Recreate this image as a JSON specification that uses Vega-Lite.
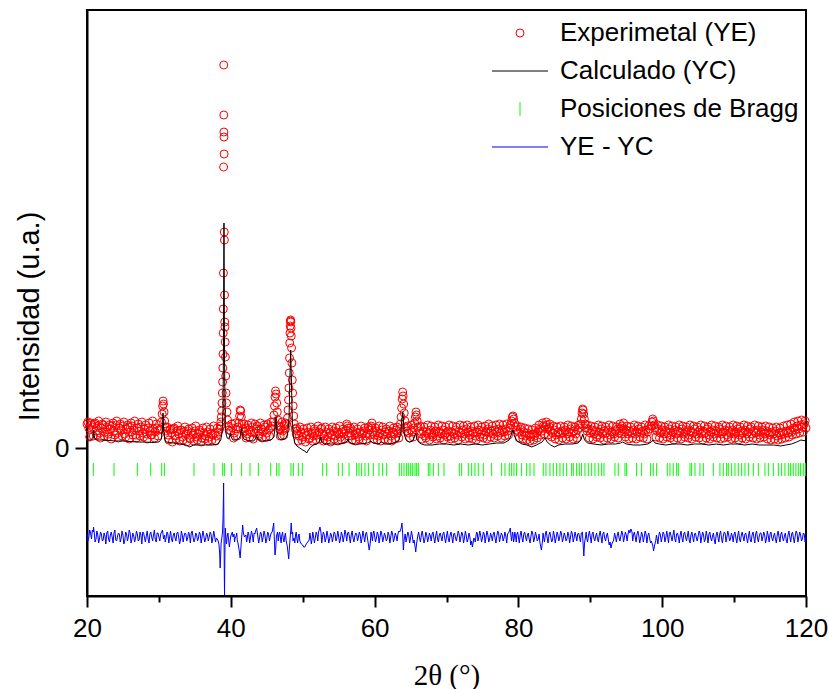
{
"$schema": "https://vega.github.io/schema/vega-lite/v6.json",
"autosize": {"type": "none"},
"width": 719, "height": 586,
"padding": {"left": 87, "top": 10, "right": 23, "bottom": 93},
"config": {"view": {"stroke": "black", "strokeWidth": 2}, "font": "Liberation Sans"},
"datasets": {
"obs": [
{"x":20,"o":24},{"x":20.25,"o":20},{"x":20.5,"o":25},{"x":20.75,"o":21},{"x":21,"o":24},{"x":21.25,"o":17},{"x":21.5,"o":22},{"x":21.75,"o":15},{"x":22,"o":20},{"x":22.25,"o":23},{"x":22.5,"o":16},{"x":22.75,"o":21},{"x":23,"o":14},{"x":23.25,"o":19},{"x":23.5,"o":22},{"x":23.75,"o":17},{"x":24,"o":23},{"x":24.25,"o":15},{"x":24.5,"o":20},{"x":24.75,"o":18},{"x":25,"o":22},{"x":25.25,"o":14},{"x":25.5,"o":19},{"x":25.75,"o":21},{"x":26,"o":16},{"x":26.25,"o":22},{"x":26.5,"o":18},{"x":26.75,"o":13},{"x":27,"o":20},{"x":27.25,"o":17},{"x":27.5,"o":21},{"x":27.75,"o":15},{"x":28,"o":19},{"x":28.25,"o":14},{"x":28.5,"o":20},{"x":28.75,"o":17},{"x":29,"o":13},{"x":29.25,"o":19},{"x":29.5,"o":16},{"x":29.75,"o":20},{"x":30,"o":18},
{"x":30.2,"o":19},{"x":30.35,"o":26},{"x":30.45,"o":34},{"x":30.52,"o":42},{"x":30.58,"o":47},{"x":30.64,"o":44},{"x":30.72,"o":36},{"x":30.8,"o":27},{"x":30.9,"o":21},{"x":31,"o":17},
{"x":31.25,"o":13},{"x":31.5,"o":18},{"x":31.75,"o":15},{"x":32,"o":19},{"x":32.25,"o":12},{"x":32.5,"o":17},{"x":32.75,"o":14},{"x":33,"o":18},{"x":33.25,"o":11},{"x":33.5,"o":16},{"x":33.75,"o":14},{"x":34,"o":17},{"x":34.25,"o":10},{"x":34.5,"o":15},{"x":34.75,"o":13},{"x":35,"o":17},{"x":35.25,"o":11},{"x":35.5,"o":14},{"x":35.75,"o":16},{"x":36,"o":10},{"x":36.25,"o":15},{"x":36.5,"o":12},{"x":36.75,"o":16},{"x":37,"o":11},{"x":37.25,"o":14},{"x":37.5,"o":13},{"x":37.75,"o":15},{"x":38,"o":12},{"x":38.25,"o":16},{"x":38.45,"o":19},
{"x":38.55,"o":22},{"x":38.62,"o":26},{"x":38.68,"o":31},{"x":38.73,"o":37},{"x":38.78,"o":45},{"x":38.82,"o":55},{"x":38.86,"o":66},{"x":38.89,"o":80},{"x":38.92,"o":94},{"x":38.94,"o":115},{"x":38.96,"o":139},{"x":38.98,"o":175},{"x":39,"o":281},{"x":39.02,"o":383},{"x":39.03,"o":333},{"x":39.04,"o":316},{"x":39.05,"o":311},{"x":39.07,"o":294},{"x":39.09,"o":216},{"x":39.11,"o":208},{"x":39.13,"o":153},{"x":39.16,"o":126},{"x":39.19,"o":121},{"x":39.22,"o":106},{"x":39.25,"o":91},{"x":39.29,"o":72},{"x":39.34,"o":55},{"x":39.4,"o":45},{"x":39.47,"o":36},{"x":39.55,"o":28},{"x":39.65,"o":22},{"x":39.75,"o":18},
{"x":40,"o":17},{"x":40.25,"o":20},{"x":40.5,"o":15},{"x":40.75,"o":19},{"x":41,"o":21},{"x":41.12,"o":25},{"x":41.22,"o":32},{"x":41.3,"o":38},{"x":41.38,"o":37},{"x":41.46,"o":31},{"x":41.55,"o":24},{"x":41.7,"o":19},
{"x":41.9,"o":16},{"x":42.1,"o":20},{"x":42.3,"o":14},{"x":42.5,"o":18},{"x":42.75,"o":16},{"x":43,"o":21},{"x":43.25,"o":15},{"x":43.5,"o":19},{"x":43.65,"o":22},{"x":43.8,"o":17},{"x":44,"o":14},{"x":44.25,"o":19},{"x":44.5,"o":16},{"x":44.75,"o":21},{"x":45,"o":15},{"x":45.25,"o":18},{"x":45.5,"o":20},{"x":45.75,"o":22},
{"x":45.9,"o":26},{"x":46,"o":33},{"x":46.08,"o":42},{"x":46.15,"o":51},{"x":46.22,"o":57},{"x":46.3,"o":54},{"x":46.38,"o":45},{"x":46.46,"o":36},{"x":46.55,"o":28},{"x":46.68,"o":22},
{"x":46.85,"o":18},{"x":47,"o":21},{"x":47.2,"o":17},{"x":47.4,"o":22},{"x":47.6,"o":19},{"x":47.75,"o":24},
{"x":47.88,"o":30},{"x":47.96,"o":38},{"x":48.03,"o":48},{"x":48.08,"o":60},{"x":48.13,"o":75},{"x":48.17,"o":90},{"x":48.2,"o":105},{"x":48.23,"o":115},{"x":48.26,"o":122},{"x":48.29,"o":127},{"x":48.32,"o":128},{"x":48.35,"o":126},{"x":48.38,"o":120},{"x":48.41,"o":112},{"x":48.45,"o":100},{"x":48.5,"o":85},{"x":48.55,"o":68},{"x":48.6,"o":55},{"x":48.67,"o":42},{"x":48.75,"o":32},{"x":48.85,"o":24},{"x":48.95,"o":19},
{"x":49.1,"o":14},{"x":49.25,"o":17},{"x":49.5,"o":12},{"x":49.75,"o":16},{"x":50,"o":11},{"x":50.25,"o":15},{"x":50.5,"o":13},{"x":50.75,"o":16},{"x":51,"o":10},{"x":51.25,"o":15},{"x":51.5,"o":12},{"x":51.75,"o":17},{"x":52,"o":13},{"x":52.25,"o":16},{"x":52.5,"o":19},{"x":52.75,"o":14},{"x":53,"o":12},{"x":53.25,"o":16},{"x":53.5,"o":11},{"x":53.75,"o":15},{"x":54,"o":13},{"x":54.25,"o":17},{"x":54.5,"o":12},{"x":54.75,"o":16},{"x":55,"o":14},{"x":55.25,"o":11},{"x":55.5,"o":16},{"x":55.75,"o":14},{"x":56,"o":18},{"x":56.2,"o":22},{"x":56.35,"o":20},{"x":56.5,"o":15},{"x":56.75,"o":12},{"x":57,"o":17},{"x":57.25,"o":13},{"x":57.5,"o":15},{"x":57.75,"o":11},{"x":58,"o":16},{"x":58.25,"o":14},{"x":58.5,"o":17},{"x":58.75,"o":12},{"x":59,"o":15},{"x":59.25,"o":18},{"x":59.5,"o":22},{"x":59.65,"o":20},{"x":59.8,"o":16},{"x":60,"o":13},{"x":60.25,"o":17},{"x":60.5,"o":12},{"x":60.75,"o":15},{"x":61,"o":18},{"x":61.25,"o":13},{"x":61.5,"o":16},{"x":61.75,"o":14},{"x":62,"o":17},{"x":62.25,"o":12},{"x":62.5,"o":16},{"x":62.75,"o":14},{"x":63,"o":18},{"x":63.25,"o":15},{"x":63.45,"o":19},
{"x":63.58,"o":24},{"x":63.68,"o":31},{"x":63.76,"o":40},{"x":63.83,"o":49},{"x":63.9,"o":56},{"x":63.97,"o":52},{"x":64.04,"o":44},{"x":64.12,"o":35},{"x":64.22,"o":27},{"x":64.35,"o":21},{"x":64.5,"o":17},{"x":64.75,"o":15},{"x":65,"o":18},{"x":65.25,"o":16},{"x":65.45,"o":20},
{"x":65.57,"o":25},{"x":65.67,"o":31},{"x":65.75,"o":36},{"x":65.83,"o":33},{"x":65.92,"o":27},{"x":66.05,"o":21},{"x":66.25,"o":17},
{"x":66.5,"o":14},{"x":66.75,"o":17},{"x":67,"o":12},{"x":67.25,"o":16},{"x":67.5,"o":14},{"x":67.75,"o":18},{"x":68,"o":13},{"x":68.25,"o":15},{"x":68.5,"o":17},{"x":68.75,"o":12},{"x":69,"o":16},{"x":69.25,"o":14},{"x":69.5,"o":18},{"x":69.75,"o":13},{"x":70,"o":15},{"x":70.25,"o":17},{"x":70.5,"o":12},{"x":70.75,"o":16},{"x":71,"o":14},{"x":71.25,"o":18},{"x":71.5,"o":13},{"x":71.75,"o":16},{"x":72,"o":15},{"x":72.25,"o":18},{"x":72.5,"o":14},{"x":72.75,"o":19},{"x":73,"o":16},{"x":73.25,"o":13},{"x":73.5,"o":17},{"x":73.75,"o":15},{"x":74,"o":12},{"x":74.25,"o":16},{"x":74.5,"o":18},{"x":74.75,"o":14},{"x":75,"o":17},{"x":75.25,"o":13},{"x":75.5,"o":16},{"x":75.75,"o":19},{"x":76,"o":15},{"x":76.25,"o":17},{"x":76.5,"o":14},{"x":76.75,"o":18},{"x":77,"o":16},{"x":77.25,"o":19},{"x":77.5,"o":15},{"x":77.75,"o":18},{"x":78,"o":16},{"x":78.25,"o":19},{"x":78.5,"o":17},{"x":78.75,"o":20},
{"x":78.92,"o":23},{"x":79.05,"o":27},{"x":79.15,"o":31},{"x":79.25,"o":32},{"x":79.35,"o":29},{"x":79.47,"o":25},{"x":79.6,"o":21},{"x":79.75,"o":18},{"x":80,"o":16},{"x":80.25,"o":19},{"x":80.5,"o":13},{"x":80.75,"o":16},{"x":81,"o":12},{"x":81.25,"o":15},{"x":81.5,"o":13},{"x":81.75,"o":11},{"x":82,"o":14},{"x":82.25,"o":12},{"x":82.5,"o":15},{"x":82.75,"o":17},{"x":83,"o":19},{"x":83.25,"o":17},{"x":83.5,"o":22},{"x":83.7,"o":21},{"x":83.9,"o":23},{"x":84.1,"o":19},{"x":84.3,"o":21},{"x":84.5,"o":17},{"x":84.75,"o":15},{"x":85,"o":18},{"x":85.25,"o":13},{"x":85.5,"o":16},{"x":85.75,"o":14},{"x":86,"o":17},{"x":86.25,"o":15},{"x":86.5,"o":18},{"x":86.75,"o":14},{"x":87,"o":16},{"x":87.25,"o":19},{"x":87.5,"o":15},{"x":87.75,"o":17},{"x":88,"o":14},{"x":88.25,"o":18},{"x":88.5,"o":20},
{"x":88.65,"o":24},{"x":88.76,"o":29},{"x":88.85,"o":35},{"x":88.93,"o":39},{"x":89,"o":38},{"x":89.08,"o":34},{"x":89.17,"o":29},{"x":89.28,"o":24},{"x":89.4,"o":20},{"x":89.55,"o":17},{"x":89.75,"o":19},{"x":90,"o":15},{"x":90.25,"o":18},{"x":90.5,"o":14},{"x":90.75,"o":17},{"x":91,"o":13},{"x":91.25,"o":16},{"x":91.5,"o":19},{"x":91.75,"o":14},{"x":92,"o":17},{"x":92.25,"o":15},{"x":92.5,"o":18},{"x":92.75,"o":13},{"x":93,"o":16},{"x":93.25,"o":14},{"x":93.5,"o":17},{"x":93.75,"o":19},{"x":94,"o":15},{"x":94.25,"o":20},{"x":94.4,"o":22},{"x":94.55,"o":19},{"x":94.75,"o":16},{"x":95,"o":18},{"x":95.25,"o":14},{"x":95.5,"o":17},{"x":95.75,"o":15},{"x":96,"o":18},{"x":96.25,"o":14},{"x":96.5,"o":16},{"x":96.75,"o":19},{"x":97,"o":15},{"x":97.25,"o":17},{"x":97.5,"o":14},{"x":97.75,"o":18},{"x":98,"o":16},{"x":98.25,"o":19},
{"x":98.45,"o":22},{"x":98.58,"o":26},{"x":98.68,"o":29},{"x":98.78,"o":27},{"x":98.9,"o":23},{"x":99.05,"o":20},{"x":99.25,"o":17},{"x":99.5,"o":19},{"x":99.75,"o":15},{"x":100,"o":18},{"x":100.25,"o":14},{"x":100.5,"o":17},{"x":100.75,"o":15},{"x":101,"o":19},{"x":101.25,"o":13},{"x":101.5,"o":16},{"x":101.75,"o":18},{"x":102,"o":14},{"x":102.25,"o":17},{"x":102.5,"o":15},{"x":102.75,"o":19},{"x":103,"o":14},{"x":103.25,"o":16},{"x":103.5,"o":18},{"x":103.75,"o":13},{"x":104,"o":17},{"x":104.25,"o":15},{"x":104.5,"o":19},{"x":104.75,"o":14},{"x":105,"o":16},{"x":105.25,"o":18},{"x":105.5,"o":14},{"x":105.75,"o":17},{"x":106,"o":15},{"x":106.25,"o":19},{"x":106.5,"o":13},{"x":106.75,"o":16},{"x":107,"o":18},{"x":107.25,"o":14},{"x":107.5,"o":17},{"x":107.75,"o":15},{"x":108,"o":19},{"x":108.25,"o":14},{"x":108.5,"o":16},{"x":108.75,"o":18},{"x":109,"o":13},{"x":109.25,"o":17},{"x":109.5,"o":15},{"x":109.75,"o":18},{"x":110,"o":14},{"x":110.25,"o":16},{"x":110.5,"o":19},{"x":110.75,"o":13},{"x":111,"o":17},{"x":111.25,"o":15},{"x":111.5,"o":18},{"x":111.75,"o":14},{"x":112,"o":16},{"x":112.25,"o":19},{"x":112.5,"o":14},{"x":112.75,"o":17},{"x":113,"o":15},{"x":113.25,"o":18},{"x":113.5,"o":13},{"x":113.75,"o":16},{"x":114,"o":18},{"x":114.25,"o":14},{"x":114.5,"o":17},{"x":114.75,"o":15},{"x":115,"o":13},{"x":115.25,"o":16},{"x":115.5,"o":14},{"x":115.75,"o":17},{"x":116,"o":12},{"x":116.25,"o":15},{"x":116.5,"o":13},{"x":116.75,"o":16},{"x":117,"o":14},{"x":117.25,"o":17},{"x":117.5,"o":15},{"x":117.75,"o":18},{"x":118,"o":16},{"x":118.25,"o":20},{"x":118.5,"o":18},{"x":118.75,"o":22},{"x":119,"o":19},{"x":119.25,"o":23},{"x":119.5,"o":21},{"x":119.75,"o":24},{"x":120,"o":20},
{"x":20.125,"o":26},{"x":20.375,"o":11},{"x":20.625,"o":23},{"x":20.875,"o":12},{"x":21.125,"o":25},{"x":21.375,"o":13},{"x":21.625,"o":27},{"x":21.875,"o":10},{"x":22.125,"o":24},{"x":22.375,"o":12},{"x":22.625,"o":26},{"x":22.875,"o":11},{"x":23.125,"o":23},{"x":23.375,"o":9},{"x":23.625,"o":25},{"x":23.875,"o":13},{"x":24.125,"o":27},{"x":24.375,"o":10},{"x":24.625,"o":24},{"x":24.875,"o":12},{"x":25.125,"o":26},{"x":25.375,"o":11},{"x":25.625,"o":23},{"x":25.875,"o":9},{"x":26.125,"o":25},{"x":26.375,"o":13},{"x":26.625,"o":27},{"x":26.875,"o":10},{"x":27.125,"o":24},{"x":27.375,"o":12},{"x":27.625,"o":26},{"x":27.875,"o":11},{"x":28.125,"o":23},{"x":28.375,"o":9},{"x":28.625,"o":25},{"x":28.875,"o":13},{"x":29.125,"o":27},{"x":29.375,"o":10},{"x":29.625,"o":24},{"x":29.875,"o":12},
{"x":31.125,"o":21},{"x":31.375,"o":8},{"x":31.625,"o":19},{"x":31.875,"o":6},{"x":32.125,"o":20},{"x":32.375,"o":9},{"x":32.625,"o":22},{"x":32.875,"o":7},{"x":33.125,"o":18},{"x":33.375,"o":8},{"x":33.625,"o":21},{"x":33.875,"o":6},{"x":34.125,"o":19},{"x":34.375,"o":9},{"x":34.625,"o":20},{"x":34.875,"o":7},{"x":35.125,"o":22},{"x":35.375,"o":8},{"x":35.625,"o":18},{"x":35.875,"o":6},{"x":36.125,"o":20},{"x":36.375,"o":9},{"x":36.625,"o":21},{"x":36.875,"o":7},{"x":37.125,"o":19},{"x":37.375,"o":8},{"x":37.625,"o":22},{"x":37.875,"o":7},{"x":38.125,"o":20},
{"x":40.125,"o":24},{"x":40.375,"o":10},{"x":40.625,"o":25},{"x":40.875,"o":12},{"x":41.875,"o":24},{"x":42.125,"o":10},{"x":42.375,"o":23},{"x":42.625,"o":11},{"x":42.875,"o":25},{"x":43.125,"o":9},{"x":43.375,"o":24},{"x":43.875,"o":12},{"x":44.125,"o":25},{"x":44.375,"o":10},{"x":44.625,"o":23},{"x":44.875,"o":11},{"x":45.125,"o":24},{"x":45.375,"o":12},{"x":45.625,"o":26},{"x":46.875,"o":12},{"x":47.125,"o":26},{"x":47.375,"o":13},{"x":47.625,"o":25},
{"x":49.125,"o":20},{"x":49.375,"o":7},{"x":49.625,"o":21},{"x":49.875,"o":8},{"x":50.125,"o":19},{"x":50.375,"o":6},{"x":50.625,"o":20},{"x":50.875,"o":9},{"x":51.125,"o":21},{"x":51.375,"o":7},{"x":51.625,"o":19},{"x":51.875,"o":8},{"x":52.125,"o":22},{"x":52.375,"o":9},{"x":52.625,"o":20},{"x":52.875,"o":7},{"x":53.125,"o":21},{"x":53.375,"o":8},{"x":53.625,"o":19},{"x":53.875,"o":6},{"x":54.125,"o":21},{"x":54.375,"o":9},{"x":54.625,"o":20},{"x":54.875,"o":7},{"x":55.125,"o":22},{"x":55.375,"o":8},{"x":55.625,"o":19},{"x":55.875,"o":9},{"x":56.125,"o":24},{"x":56.375,"o":12},{"x":56.625,"o":20},{"x":56.875,"o":8},{"x":57.125,"o":21},{"x":57.375,"o":7},{"x":57.625,"o":19},{"x":57.875,"o":9},{"x":58.125,"o":22},{"x":58.375,"o":8},{"x":58.625,"o":20},{"x":58.875,"o":7},{"x":59.125,"o":21},{"x":59.375,"o":13},{"x":59.625,"o":25},{"x":59.875,"o":9},{"x":60.125,"o":20},{"x":60.375,"o":8},{"x":60.625,"o":22},{"x":60.875,"o":7},{"x":61.125,"o":21},{"x":61.375,"o":9},{"x":61.625,"o":19},{"x":61.875,"o":8},{"x":62.125,"o":22},{"x":62.375,"o":7},{"x":62.625,"o":20},{"x":62.875,"o":9},{"x":63.125,"o":21},{"x":63.375,"o":10},
{"x":64.625,"o":22},{"x":64.875,"o":10},{"x":65.125,"o":23},{"x":65.375,"o":11},{"x":66.375,"o":22},{"x":66.625,"o":9},{"x":66.875,"o":21},{"x":67.125,"o":10},{"x":67.375,"o":23},{"x":67.625,"o":8},{"x":67.875,"o":22},{"x":68.125,"o":11},{"x":68.375,"o":21},{"x":68.625,"o":9},{"x":68.875,"o":23},{"x":69.125,"o":10},{"x":69.375,"o":22},{"x":69.625,"o":8},{"x":69.875,"o":21},{"x":70.125,"o":11},{"x":70.375,"o":23},{"x":70.625,"o":9},{"x":70.875,"o":22},{"x":71.125,"o":10},{"x":71.375,"o":21},{"x":71.625,"o":8},{"x":71.875,"o":23},{"x":72.125,"o":11},{"x":72.375,"o":22},{"x":72.625,"o":9},{"x":72.875,"o":23},{"x":73.125,"o":10},{"x":73.375,"o":21},{"x":73.625,"o":9},{"x":73.875,"o":22},{"x":74.125,"o":8},{"x":74.375,"o":23},{"x":74.625,"o":11},{"x":74.875,"o":21},{"x":75.125,"o":10},{"x":75.375,"o":22},{"x":75.625,"o":9},{"x":75.875,"o":24},{"x":76.125,"o":11},{"x":76.375,"o":22},{"x":76.625,"o":10},{"x":76.875,"o":23},{"x":77.125,"o":12},{"x":77.375,"o":24},{"x":77.625,"o":10},{"x":77.875,"o":23},{"x":78.125,"o":12},{"x":78.375,"o":24},{"x":78.625,"o":13},
{"x":79.875,"o":22},{"x":80.125,"o":10},{"x":80.375,"o":21},{"x":80.625,"o":9},{"x":80.875,"o":20},{"x":81.125,"o":8},{"x":81.375,"o":19},{"x":81.625,"o":7},{"x":81.875,"o":18},{"x":82.125,"o":8},{"x":82.375,"o":20},{"x":82.625,"o":10},{"x":82.875,"o":23},{"x":83.125,"o":13},{"x":83.375,"o":25},{"x":83.625,"o":14},{"x":83.875,"o":26},{"x":84.125,"o":13},{"x":84.375,"o":24},{"x":84.625,"o":11},{"x":84.875,"o":22},{"x":85.125,"o":9},{"x":85.375,"o":21},{"x":85.625,"o":8},{"x":85.875,"o":22},{"x":86.125,"o":10},{"x":86.375,"o":21},{"x":86.625,"o":9},{"x":86.875,"o":23},{"x":87.125,"o":11},{"x":87.375,"o":22},{"x":87.625,"o":9},{"x":87.875,"o":21},{"x":88.125,"o":10},{"x":88.375,"o":23},
{"x":89.625,"o":23},{"x":89.875,"o":10},{"x":90.125,"o":22},{"x":90.375,"o":9},{"x":90.625,"o":21},{"x":90.875,"o":11},{"x":91.125,"o":23},{"x":91.375,"o":10},{"x":91.625,"o":22},{"x":91.875,"o":8},{"x":92.125,"o":21},{"x":92.375,"o":10},{"x":92.625,"o":23},{"x":92.875,"o":9},{"x":93.125,"o":22},{"x":93.375,"o":11},{"x":93.625,"o":21},{"x":93.875,"o":10},{"x":94.125,"o":24},{"x":94.375,"o":14},{"x":94.625,"o":25},{"x":94.875,"o":11},{"x":95.125,"o":22},{"x":95.375,"o":9},{"x":95.625,"o":21},{"x":95.875,"o":10},{"x":96.125,"o":23},{"x":96.375,"o":9},{"x":96.625,"o":22},{"x":96.875,"o":11},{"x":97.125,"o":21},{"x":97.375,"o":10},{"x":97.625,"o":23},{"x":97.875,"o":9},{"x":98.125,"o":22},
{"x":99.125,"o":11},{"x":99.375,"o":23},{"x":99.625,"o":10},{"x":99.875,"o":22},{"x":100.125,"o":9},{"x":100.375,"o":21},{"x":100.625,"o":11},{"x":100.875,"o":23},{"x":101.125,"o":10},{"x":101.375,"o":22},{"x":101.625,"o":8},{"x":101.875,"o":21},{"x":102.125,"o":10},{"x":102.375,"o":23},{"x":102.625,"o":9},{"x":102.875,"o":22},{"x":103.125,"o":11},{"x":103.375,"o":21},{"x":103.625,"o":10},{"x":103.875,"o":23},{"x":104.125,"o":9},{"x":104.375,"o":22},{"x":104.625,"o":11},{"x":104.875,"o":21},{"x":105.125,"o":10},{"x":105.375,"o":23},{"x":105.625,"o":8},{"x":105.875,"o":22},{"x":106.125,"o":10},{"x":106.375,"o":21},{"x":106.625,"o":9},{"x":106.875,"o":23},{"x":107.125,"o":11},{"x":107.375,"o":22},{"x":107.625,"o":10},{"x":107.875,"o":21},{"x":108.125,"o":9},{"x":108.375,"o":23},{"x":108.625,"o":10},{"x":108.875,"o":22},{"x":109.125,"o":11},{"x":109.375,"o":21},{"x":109.625,"o":9},{"x":109.875,"o":23},{"x":110.125,"o":10},{"x":110.375,"o":22},{"x":110.625,"o":8},{"x":110.875,"o":21},{"x":111.125,"o":10},{"x":111.375,"o":23},{"x":111.625,"o":9},{"x":111.875,"o":22},{"x":112.125,"o":11},{"x":112.375,"o":21},{"x":112.625,"o":10},{"x":112.875,"o":23},{"x":113.125,"o":9},{"x":113.375,"o":22},{"x":113.625,"o":10},{"x":113.875,"o":21},{"x":114.125,"o":11},{"x":114.375,"o":22},{"x":114.625,"o":9},{"x":114.875,"o":21},{"x":115.125,"o":8},{"x":115.375,"o":20},{"x":115.625,"o":9},{"x":115.875,"o":21},{"x":116.125,"o":8},{"x":116.375,"o":20},{"x":116.625,"o":9},{"x":116.875,"o":22},{"x":117.125,"o":10},{"x":117.375,"o":23},{"x":117.625,"o":11},{"x":117.875,"o":24},{"x":118.125,"o":13},{"x":118.375,"o":26},{"x":118.625,"o":14},{"x":118.875,"o":27},{"x":119.125,"o":15},{"x":119.375,"o":28},{"x":119.625,"o":16},{"x":119.875,"o":27}
],
"calc": [
{"x":20,"c":8},{"x":20.5,"c":8},{"x":20.8,"c":10},{"x":20.93,"c":18},{"x":21.05,"c":10},{"x":21.3,"c":8},{"x":22,"c":8},{"x":23,"c":7.5},{"x":24,"c":7},{"x":25,"c":7},{"x":26,"c":6.5},{"x":27,"c":6},{"x":28,"c":6},{"x":29,"c":5.5},{"x":30,"c":6},{"x":30.35,"c":9},{"x":30.5,"c":20},{"x":30.57,"c":35},{"x":30.65,"c":20},{"x":30.8,"c":9},{"x":31,"c":6},{"x":32,"c":5},{"x":33,"c":4},{"x":33.8,"c":3},{"x":34.3,"c":1},{"x":34.8,"c":3},{"x":35.5,"c":3},{"x":36.5,"c":3},{"x":37.5,"c":3},{"x":38.2,"c":4},{"x":38.6,"c":8},{"x":38.8,"c":16},{"x":38.92,"c":40},{"x":38.98,"c":100},{"x":39.02,"c":180},{"x":39.05,"c":225},{"x":39.08,"c":180},{"x":39.12,"c":100},{"x":39.18,"c":45},{"x":39.25,"c":24},{"x":39.35,"c":14},{"x":39.5,"c":10},{"x":39.7,"c":9},{"x":39.85,"c":12},{"x":39.95,"c":15},{"x":40.05,"c":11},{"x":40.3,"c":8},{"x":40.8,"c":8},{"x":41.2,"c":10},{"x":41.4,"c":14},{"x":41.5,"c":20},{"x":41.6,"c":14},{"x":41.8,"c":9},{"x":42.5,"c":7},{"x":43.2,"c":7},{"x":43.5,"c":10},{"x":43.6,"c":13},{"x":43.7,"c":9},{"x":44.2,"c":7},{"x":45,"c":7},{"x":45.6,"c":8},{"x":46,"c":11},{"x":46.15,"c":20},{"x":46.28,"c":31},{"x":46.4,"c":19},{"x":46.6,"c":10},{"x":47,"c":8},{"x":47.6,"c":9},{"x":47.9,"c":14},{"x":48.1,"c":30},{"x":48.22,"c":70},{"x":48.33,"c":98},{"x":48.42,"c":70},{"x":48.55,"c":30},{"x":48.7,"c":12},{"x":48.9,"c":5},{"x":49.2,"c":2},{"x":49.6,"c":0},{"x":50,"c":-2},{"x":50.3,"c":-3},{"x":50.55,"c":-5},{"x":50.8,"c":-2},{"x":51.1,"c":1},{"x":51.5,"c":3},{"x":52,"c":4},{"x":52.35,"c":7},{"x":52.5,"c":11},{"x":52.65,"c":6},{"x":53,"c":4},{"x":54,"c":4},{"x":55,"c":4},{"x":55.8,"c":5},{"x":56.2,"c":7},{"x":56.3,"c":9},{"x":56.45,"c":6},{"x":57,"c":4},{"x":58,"c":4},{"x":59,"c":5},{"x":59.5,"c":7},{"x":59.8,"c":5},{"x":60.5,"c":4},{"x":61,"c":6},{"x":61.3,"c":4},{"x":62,"c":4},{"x":62.8,"c":5},{"x":63.4,"c":8},{"x":63.7,"c":18},{"x":63.85,"c":32},{"x":63.92,"c":36},{"x":64,"c":28},{"x":64.15,"c":13},{"x":64.4,"c":8},{"x":64.8,"c":6},{"x":65.3,"c":7},{"x":65.55,"c":11},{"x":65.7,"c":15},{"x":65.85,"c":10},{"x":66.1,"c":6},{"x":66.5,"c":4},{"x":67,"c":3},{"x":68,"c":3},{"x":69,"c":4},{"x":70,"c":4},{"x":71,"c":3},{"x":72,"c":4},{"x":73,"c":3},{"x":74,"c":4},{"x":75,"c":3},{"x":76,"c":4},{"x":77,"c":5},{"x":78,"c":5},{"x":78.7,"c":8},{"x":79.05,"c":14},{"x":79.25,"c":18},{"x":79.45,"c":12},{"x":79.8,"c":7},{"x":80.5,"c":4},{"x":81.2,"c":3},{"x":81.85,"c":1},{"x":82.5,"c":3},{"x":83.3,"c":6},{"x":83.7,"c":10},{"x":84,"c":6},{"x":84.5,"c":3},{"x":85,"c":1},{"x":85.6,"c":3},{"x":86.5,"c":4},{"x":87.5,"c":4},{"x":88.3,"c":5},{"x":88.7,"c":8},{"x":88.95,"c":14},{"x":89.2,"c":8},{"x":89.6,"c":5},{"x":90.5,"c":4},{"x":91.5,"c":3},{"x":92.5,"c":4},{"x":93.5,"c":4},{"x":94.2,"c":5},{"x":94.5,"c":6},{"x":95,"c":4},{"x":96,"c":3},{"x":97,"c":3},{"x":98,"c":4},{"x":98.5,"c":6},{"x":98.7,"c":8},{"x":99,"c":5},{"x":99.6,"c":4},{"x":100.5,"c":3},{"x":101.5,"c":4},{"x":102.5,"c":4},{"x":103.5,"c":3},{"x":104.5,"c":4},{"x":105.5,"c":4},{"x":106.5,"c":3},{"x":107.5,"c":4},{"x":108.5,"c":3},{"x":109.5,"c":4},{"x":110.5,"c":4},{"x":111.5,"c":3},{"x":112.5,"c":4},{"x":113.5,"c":3},{"x":114.5,"c":3},{"x":115.5,"c":3},{"x":116.5,"c":2},{"x":117.2,"c":3},{"x":118,"c":4},{"x":118.7,"c":6},{"x":119.3,"c":8},{"x":120,"c":7}
],
"diff": [
{"x":20,"d":-86},{"x":20.25,"d":-90},{"x":20.5,"d":-85},{"x":20.75,"d":-82},{"x":20.9,"d":-79},{"x":21,"d":-84},{"x":21.25,"d":-91},{"x":21.5,"d":-87},{"x":21.75,"d":-90},{"x":22,"d":-86},{"x":22.25,"d":-92},{"x":22.5,"d":-88},{"x":22.75,"d":-85},{"x":23,"d":-91},{"x":23.25,"d":-87},{"x":23.5,"d":-89},{"x":23.75,"d":-85},{"x":24,"d":-92},{"x":24.25,"d":-88},{"x":24.5,"d":-86},{"x":24.75,"d":-90},{"x":25,"d":-87},{"x":25.25,"d":-93},{"x":25.5,"d":-86},{"x":25.75,"d":-89},{"x":26,"d":-85},{"x":26.25,"d":-91},{"x":26.5,"d":-88},{"x":26.75,"d":-90},{"x":27,"d":-86},{"x":27.25,"d":-92},{"x":27.5,"d":-87},{"x":27.75,"d":-84},{"x":28,"d":-90},{"x":28.25,"d":-88},{"x":28.5,"d":-91},{"x":28.75,"d":-86},{"x":29,"d":-89},{"x":29.25,"d":-87},{"x":29.5,"d":-92},{"x":29.75,"d":-85},{"x":30,"d":-89},{"x":30.25,"d":-86},{"x":30.5,"d":-82},{"x":30.65,"d":-91},{"x":30.8,"d":-87},{"x":31,"d":-90},{"x":31.25,"d":-86},{"x":31.5,"d":-89},{"x":31.75,"d":-91},{"x":32,"d":-87},{"x":32.25,"d":-90},{"x":32.5,"d":-85},{"x":32.75,"d":-89},{"x":33,"d":-92},{"x":33.25,"d":-87},{"x":33.5,"d":-88},{"x":33.75,"d":-86},{"x":34,"d":-90},{"x":34.25,"d":-87},{"x":34.5,"d":-85},{"x":34.75,"d":-89},{"x":35,"d":-91},{"x":35.25,"d":-87},{"x":35.5,"d":-90},{"x":35.75,"d":-86},{"x":36,"d":-89},{"x":36.25,"d":-88},{"x":36.5,"d":-91},{"x":36.75,"d":-87},{"x":37,"d":-89},{"x":37.25,"d":-86},{"x":37.5,"d":-90},{"x":37.75,"d":-88},{"x":38,"d":-90},{"x":38.2,"d":-92},{"x":38.35,"d":-96},{"x":38.45,"d":-105},{"x":38.52,"d":-120},{"x":38.58,"d":-110},{"x":38.65,"d":-95},{"x":38.75,"d":-90},{"x":38.85,"d":-84},{"x":38.92,"d":-70},{"x":38.97,"d":-50},{"x":39,"d":-35},{"x":39.03,"d":-60},{"x":39.07,"d":-100},{"x":39.1,"d":-130},{"x":39.13,"d":-147},{"x":39.16,"d":-120},{"x":39.2,"d":-95},{"x":39.25,"d":-80},{"x":39.3,"d":-88},{"x":39.4,"d":-96},{"x":39.5,"d":-88},{"x":39.6,"d":-85},{"x":39.7,"d":-92},{"x":39.8,"d":-99},{"x":39.9,"d":-93},{"x":40,"d":-88},{"x":40.15,"d":-85},{"x":40.3,"d":-89},{"x":40.45,"d":-86},{"x":40.6,"d":-90},{"x":40.75,"d":-88},{"x":40.9,"d":-92},{"x":41.05,"d":-97},{"x":41.2,"d":-104},{"x":41.3,"d":-110},{"x":41.4,"d":-100},{"x":41.5,"d":-90},{"x":41.6,"d":-82},{"x":41.65,"d":-77},{"x":41.75,"d":-85},{"x":41.9,"d":-89},{"x":42.1,"d":-87},{"x":42.3,"d":-90},{"x":42.5,"d":-86},{"x":42.75,"d":-89},{"x":43,"d":-87},{"x":43.25,"d":-85},{"x":43.45,"d":-83},{"x":43.6,"d":-80},{"x":43.75,"d":-88},{"x":44,"d":-90},{"x":44.25,"d":-86},{"x":44.5,"d":-89},{"x":44.75,"d":-87},{"x":45,"d":-91},{"x":45.25,"d":-86},{"x":45.5,"d":-88},{"x":45.75,"d":-84},{"x":45.9,"d":-78},{"x":45.97,"d":-75},{"x":46.05,"d":-90},{"x":46.15,"d":-107},{"x":46.25,"d":-100},{"x":46.35,"d":-88},{"x":46.5,"d":-84},{"x":46.7,"d":-86},{"x":46.9,"d":-90},{"x":47.1,"d":-87},{"x":47.3,"d":-91},{"x":47.5,"d":-88},{"x":47.7,"d":-93},{"x":47.85,"d":-98},{"x":47.95,"d":-104},{"x":48.05,"d":-111},{"x":48.15,"d":-100},{"x":48.25,"d":-90},{"x":48.35,"d":-82},{"x":48.4,"d":-75},{"x":48.5,"d":-86},{"x":48.65,"d":-93},{"x":48.8,"d":-90},{"x":49,"d":-87},{"x":49.2,"d":-91},{"x":49.4,"d":-88},{"x":49.6,"d":-93},{"x":49.8,"d":-96},{"x":50,"d":-97},{"x":50.15,"d":-99},{"x":50.3,"d":-99},{"x":50.5,"d":-96},{"x":50.7,"d":-94},{"x":50.9,"d":-92},{"x":51.1,"d":-90},{"x":51.3,"d":-91},{"x":51.5,"d":-88},{"x":51.75,"d":-90},{"x":52,"d":-87},{"x":52.2,"d":-84},{"x":52.4,"d":-79},{"x":52.55,"d":-85},{"x":52.75,"d":-89},{"x":53,"d":-87},{"x":53.25,"d":-90},{"x":53.5,"d":-88},{"x":53.75,"d":-91},{"x":54,"d":-87},{"x":54.25,"d":-89},{"x":54.5,"d":-86},{"x":54.75,"d":-90},{"x":55,"d":-88},{"x":55.25,"d":-91},{"x":55.5,"d":-87},{"x":55.75,"d":-89},{"x":56,"d":-86},{"x":56.25,"d":-85},{"x":56.5,"d":-89},{"x":56.75,"d":-87},{"x":57,"d":-90},{"x":57.25,"d":-88},{"x":57.5,"d":-86},{"x":57.75,"d":-89},{"x":58,"d":-87},{"x":58.25,"d":-90},{"x":58.5,"d":-88},{"x":58.75,"d":-86},{"x":59,"d":-90},{"x":59.15,"d":-97},{"x":59.25,"d":-102},{"x":59.4,"d":-95},{"x":59.6,"d":-88},{"x":59.8,"d":-85},{"x":60,"d":-88},{"x":60.25,"d":-90},{"x":60.5,"d":-87},{"x":60.75,"d":-89},{"x":61,"d":-86},{"x":61.25,"d":-90},{"x":61.5,"d":-88},{"x":61.75,"d":-91},{"x":62,"d":-87},{"x":62.25,"d":-89},{"x":62.5,"d":-86},{"x":62.75,"d":-90},{"x":63,"d":-88},{"x":63.25,"d":-86},{"x":63.5,"d":-84},{"x":63.7,"d":-80},{"x":63.8,"d":-75},{"x":63.9,"d":-85},{"x":64,"d":-102},{"x":64.1,"d":-92},{"x":64.25,"d":-86},{"x":64.5,"d":-89},{"x":64.75,"d":-87},{"x":65,"d":-90},{"x":65.25,"d":-88},{"x":65.5,"d":-92},{"x":65.65,"d":-100},{"x":65.72,"d":-104},{"x":65.85,"d":-95},{"x":66,"d":-88},{"x":66.25,"d":-90},{"x":66.5,"d":-87},{"x":66.75,"d":-89},{"x":67,"d":-91},{"x":67.25,"d":-87},{"x":67.5,"d":-90},{"x":67.75,"d":-88},{"x":68,"d":-86},{"x":68.25,"d":-90},{"x":68.5,"d":-88},{"x":68.75,"d":-91},{"x":69,"d":-87},{"x":69.25,"d":-89},{"x":69.5,"d":-86},{"x":69.75,"d":-90},{"x":70,"d":-88},{"x":70.25,"d":-91},{"x":70.5,"d":-87},{"x":70.75,"d":-89},{"x":71,"d":-86},{"x":71.25,"d":-90},{"x":71.5,"d":-88},{"x":71.75,"d":-86},{"x":72,"d":-89},{"x":72.25,"d":-87},{"x":72.5,"d":-90},{"x":72.75,"d":-88},{"x":73,"d":-91},{"x":73.25,"d":-89},{"x":73.5,"d":-93},{"x":73.7,"d":-95},{"x":73.9,"d":-91},{"x":74.1,"d":-88},{"x":74.3,"d":-86},{"x":74.5,"d":-89},{"x":74.75,"d":-87},{"x":75,"d":-90},{"x":75.25,"d":-86},{"x":75.5,"d":-89},{"x":75.75,"d":-87},{"x":76,"d":-91},{"x":76.25,"d":-88},{"x":76.5,"d":-86},{"x":76.75,"d":-90},{"x":77,"d":-88},{"x":77.25,"d":-85},{"x":77.5,"d":-89},{"x":77.75,"d":-87},{"x":78,"d":-90},{"x":78.25,"d":-88},{"x":78.5,"d":-86},{"x":78.7,"d":-84},{"x":78.8,"d":-82},{"x":78.95,"d":-87},{"x":79.1,"d":-90},{"x":79.25,"d":-86},{"x":79.4,"d":-91},{"x":79.6,"d":-88},{"x":79.8,"d":-86},{"x":80,"d":-89},{"x":80.25,"d":-87},{"x":80.5,"d":-90},{"x":80.75,"d":-86},{"x":81,"d":-89},{"x":81.25,"d":-87},{"x":81.5,"d":-91},{"x":81.75,"d":-88},{"x":82,"d":-86},{"x":82.25,"d":-90},{"x":82.5,"d":-88},{"x":82.75,"d":-91},{"x":83,"d":-95},{"x":83.2,"d":-102},{"x":83.35,"d":-93},{"x":83.5,"d":-89},{"x":83.75,"d":-86},{"x":84,"d":-90},{"x":84.25,"d":-87},{"x":84.5,"d":-89},{"x":84.75,"d":-92},{"x":85,"d":-88},{"x":85.25,"d":-90},{"x":85.5,"d":-87},{"x":85.75,"d":-89},{"x":86,"d":-86},{"x":86.25,"d":-90},{"x":86.5,"d":-88},{"x":86.75,"d":-91},{"x":87,"d":-87},{"x":87.25,"d":-89},{"x":87.5,"d":-86},{"x":87.75,"d":-90},{"x":88,"d":-88},{"x":88.25,"d":-86},{"x":88.5,"d":-89},{"x":88.75,"d":-85},{"x":88.9,"d":-84},{"x":89,"d":-96},{"x":89.1,"d":-108},{"x":89.2,"d":-95},{"x":89.35,"d":-88},{"x":89.5,"d":-90},{"x":89.75,"d":-87},{"x":90,"d":-89},{"x":90.25,"d":-86},{"x":90.5,"d":-90},{"x":90.75,"d":-88},{"x":91,"d":-91},{"x":91.25,"d":-87},{"x":91.5,"d":-89},{"x":91.75,"d":-86},{"x":92,"d":-90},{"x":92.25,"d":-88},{"x":92.5,"d":-91},{"x":92.75,"d":-94},{"x":93,"d":-96},{"x":93.25,"d":-92},{"x":93.5,"d":-89},{"x":93.75,"d":-87},{"x":94,"d":-90},{"x":94.25,"d":-88},{"x":94.5,"d":-86},{"x":94.75,"d":-89},{"x":95,"d":-87},{"x":95.25,"d":-86},{"x":95.5,"d":-85},{"x":95.8,"d":-84},{"x":96,"d":-87},{"x":96.25,"d":-89},{"x":96.5,"d":-86},{"x":96.75,"d":-88},{"x":97,"d":-90},{"x":97.25,"d":-87},{"x":97.5,"d":-89},{"x":97.75,"d":-86},{"x":98,"d":-88},{"x":98.25,"d":-90},{"x":98.5,"d":-93},{"x":98.7,"d":-98},{"x":98.8,"d":-103},{"x":98.95,"d":-97},{"x":99.1,"d":-93},{"x":99.3,"d":-91},{"x":99.5,"d":-89},{"x":99.75,"d":-87},{"x":100,"d":-89},{"x":100.25,"d":-86},{"x":100.5,"d":-90},{"x":100.75,"d":-88},{"x":101,"d":-85},{"x":101.25,"d":-89},{"x":101.5,"d":-87},{"x":101.75,"d":-91},{"x":102,"d":-86},{"x":102.25,"d":-89},{"x":102.5,"d":-87},{"x":102.75,"d":-90},{"x":103,"d":-86},{"x":103.25,"d":-89},{"x":103.5,"d":-88},{"x":103.75,"d":-92},{"x":104,"d":-87},{"x":104.25,"d":-89},{"x":104.5,"d":-86},{"x":104.75,"d":-90},{"x":105,"d":-88},{"x":105.25,"d":-85},{"x":105.5,"d":-89},{"x":105.75,"d":-87},{"x":106,"d":-91},{"x":106.25,"d":-88},{"x":106.5,"d":-86},{"x":106.75,"d":-90},{"x":107,"d":-88},{"x":107.25,"d":-92},{"x":107.5,"d":-87},{"x":107.75,"d":-89},{"x":108,"d":-86},{"x":108.25,"d":-90},{"x":108.5,"d":-88},{"x":108.75,"d":-85},{"x":109,"d":-89},{"x":109.25,"d":-87},{"x":109.5,"d":-91},{"x":109.75,"d":-88},{"x":110,"d":-86},{"x":110.25,"d":-90},{"x":110.5,"d":-88},{"x":110.75,"d":-91},{"x":111,"d":-87},{"x":111.25,"d":-89},{"x":111.5,"d":-86},{"x":111.75,"d":-90},{"x":112,"d":-88},{"x":112.25,"d":-92},{"x":112.5,"d":-87},{"x":112.75,"d":-89},{"x":113,"d":-86},{"x":113.25,"d":-90},{"x":113.5,"d":-88},{"x":113.75,"d":-85},{"x":114,"d":-89},{"x":114.25,"d":-87},{"x":114.5,"d":-91},{"x":114.75,"d":-88},{"x":115,"d":-86},{"x":115.25,"d":-90},{"x":115.5,"d":-88},{"x":115.75,"d":-91},{"x":116,"d":-87},{"x":116.25,"d":-89},{"x":116.5,"d":-86},{"x":116.75,"d":-90},{"x":117,"d":-88},{"x":117.25,"d":-92},{"x":117.5,"d":-87},{"x":117.75,"d":-89},{"x":118,"d":-86},{"x":118.25,"d":-90},{"x":118.5,"d":-88},{"x":118.75,"d":-85},{"x":119,"d":-89},{"x":119.25,"d":-87},{"x":119.5,"d":-91},{"x":119.75,"d":-86},{"x":120,"d":-89},
{"x":20.125,"d":-93},{"x":20.375,"d":-82},{"x":20.625,"d":-91},{"x":20.875,"d":-84},{"x":21.125,"d":-94},{"x":21.375,"d":-83},{"x":21.625,"d":-95},{"x":21.875,"d":-84},{"x":22.125,"d":-93},{"x":22.375,"d":-85},{"x":22.625,"d":-96},{"x":22.875,"d":-83},{"x":23.125,"d":-94},{"x":23.375,"d":-84},{"x":23.625,"d":-95},{"x":23.875,"d":-82},{"x":24.125,"d":-93},{"x":24.375,"d":-85},{"x":24.625,"d":-94},{"x":24.875,"d":-83},{"x":25.125,"d":-96},{"x":25.375,"d":-84},{"x":25.625,"d":-93},{"x":25.875,"d":-82},{"x":26.125,"d":-95},{"x":26.375,"d":-85},{"x":26.625,"d":-94},{"x":26.875,"d":-83},{"x":27.125,"d":-93},{"x":27.375,"d":-84},{"x":27.625,"d":-96},{"x":27.875,"d":-85},{"x":28.125,"d":-94},{"x":28.375,"d":-83},{"x":28.625,"d":-95},{"x":28.875,"d":-84},{"x":29.125,"d":-93},{"x":29.375,"d":-82},{"x":29.625,"d":-94},{"x":29.875,"d":-85},{"x":30.125,"d":-93},{"x":30.375,"d":-84},{"x":30.875,"d":-94},{"x":31.125,"d":-84},{"x":31.375,"d":-95},{"x":31.625,"d":-83},{"x":31.875,"d":-94},{"x":32.125,"d":-85},{"x":32.375,"d":-93},{"x":32.625,"d":-84},{"x":32.875,"d":-96},{"x":33.125,"d":-83},{"x":33.375,"d":-94},{"x":33.625,"d":-85},{"x":33.875,"d":-93},{"x":34.125,"d":-84},{"x":34.375,"d":-95},{"x":34.625,"d":-83},{"x":34.875,"d":-94},{"x":35.125,"d":-85},{"x":35.375,"d":-93},{"x":35.625,"d":-84},{"x":35.875,"d":-95},{"x":36.125,"d":-83},{"x":36.375,"d":-94},{"x":36.625,"d":-85},{"x":36.875,"d":-93},{"x":37.125,"d":-84},{"x":37.375,"d":-95},{"x":37.625,"d":-83},{"x":37.875,"d":-94},
{"x":40.225,"d":-84},{"x":40.525,"d":-94},{"x":40.825,"d":-85},{"x":42.2,"d":-94},{"x":42.4,"d":-84},{"x":42.625,"d":-95},{"x":42.875,"d":-83},{"x":43.125,"d":-94},{"x":43.35,"d":-86},{"x":43.875,"d":-95},{"x":44.125,"d":-84},{"x":44.375,"d":-94},{"x":44.625,"d":-83},{"x":44.875,"d":-95},{"x":45.125,"d":-84},{"x":45.375,"d":-93},{"x":45.625,"d":-85},{"x":46.6,"d":-93},{"x":46.8,"d":-84},{"x":47,"d":-95},{"x":47.2,"d":-84},{"x":47.4,"d":-94},{"x":47.6,"d":-85},{"x":48.6,"d":-84},{"x":48.9,"d":-95},{"x":49.1,"d":-84},{"x":49.3,"d":-95},{"x":49.5,"d":-86},{"x":51,"d":-85},{"x":51.2,"d":-96},{"x":51.4,"d":-84},{"x":51.625,"d":-95},{"x":51.875,"d":-84},{"x":52.1,"d":-93},{"x":52.3,"d":-82},{"x":52.65,"d":-95},{"x":52.875,"d":-84},{"x":53.125,"d":-94},{"x":53.375,"d":-83},{"x":53.625,"d":-95},{"x":53.875,"d":-85},{"x":54.125,"d":-94},{"x":54.375,"d":-84},{"x":54.625,"d":-93},{"x":54.875,"d":-83},{"x":55.125,"d":-95},{"x":55.375,"d":-84},{"x":55.625,"d":-94},{"x":55.875,"d":-82},{"x":56.125,"d":-93},{"x":56.375,"d":-84},{"x":56.625,"d":-95},{"x":56.875,"d":-83},{"x":57.125,"d":-94},{"x":57.375,"d":-85},{"x":57.625,"d":-93},{"x":57.875,"d":-84},{"x":58.125,"d":-95},{"x":58.375,"d":-83},{"x":58.625,"d":-94},{"x":58.875,"d":-84},{"x":59.5,"d":-84},{"x":59.7,"d":-93},{"x":59.9,"d":-83},{"x":60.125,"d":-94},{"x":60.375,"d":-84},{"x":60.625,"d":-95},{"x":60.875,"d":-83},{"x":61.125,"d":-94},{"x":61.375,"d":-85},{"x":61.625,"d":-93},{"x":61.875,"d":-84},{"x":62.125,"d":-95},{"x":62.375,"d":-83},{"x":62.625,"d":-94},{"x":62.875,"d":-85},{"x":63.125,"d":-93},{"x":63.375,"d":-83},{"x":64.375,"d":-94},{"x":64.625,"d":-84},{"x":64.875,"d":-95},{"x":65.125,"d":-83},{"x":65.375,"d":-95},{"x":66.125,"d":-84},{"x":66.375,"d":-94},{"x":66.625,"d":-83},{"x":66.875,"d":-95},{"x":67.125,"d":-84},{"x":67.375,"d":-94},{"x":67.625,"d":-85},{"x":67.875,"d":-93},{"x":68.125,"d":-84},{"x":68.375,"d":-95},{"x":68.625,"d":-83},{"x":68.875,"d":-94},{"x":69.125,"d":-85},{"x":69.375,"d":-93},{"x":69.625,"d":-84},{"x":69.875,"d":-95},{"x":70.125,"d":-83},{"x":70.375,"d":-94},{"x":70.625,"d":-84},{"x":70.875,"d":-95},{"x":71.125,"d":-85},{"x":71.375,"d":-93},{"x":71.625,"d":-83},{"x":71.875,"d":-94},{"x":72.125,"d":-84},{"x":72.375,"d":-95},{"x":72.625,"d":-83},{"x":72.875,"d":-94},{"x":73.125,"d":-85},{"x":73.375,"d":-97},{"x":73.6,"d":-99},{"x":73.8,"d":-90},{"x":74,"d":-94},{"x":74.2,"d":-84},{"x":74.375,"d":-93},{"x":74.625,"d":-83},{"x":74.875,"d":-94},{"x":75.125,"d":-84},{"x":75.375,"d":-95},{"x":75.625,"d":-83},{"x":75.875,"d":-94},{"x":76.125,"d":-85},{"x":76.375,"d":-93},{"x":76.625,"d":-84},{"x":76.875,"d":-95},{"x":77.125,"d":-83},{"x":77.375,"d":-94},{"x":77.625,"d":-85},{"x":77.875,"d":-93},{"x":78.125,"d":-84},{"x":78.375,"d":-95},{"x":78.6,"d":-85},{"x":78.875,"d":-80},{"x":79.05,"d":-93},{"x":79.175,"d":-84},{"x":79.325,"d":-94},{"x":79.5,"d":-84},{"x":79.7,"d":-94},{"x":79.9,"d":-84},{"x":80.125,"d":-95},{"x":80.375,"d":-83},{"x":80.625,"d":-94},{"x":80.875,"d":-84},{"x":81.125,"d":-93},{"x":81.375,"d":-85},{"x":81.625,"d":-95},{"x":81.875,"d":-83},{"x":82.125,"d":-94},{"x":82.375,"d":-84},{"x":82.625,"d":-93},{"x":82.875,"d":-86},{"x":83.425,"d":-85},{"x":83.625,"d":-94},{"x":83.875,"d":-83},{"x":84.125,"d":-95},{"x":84.375,"d":-84},{"x":84.625,"d":-94},{"x":84.875,"d":-83},{"x":85.125,"d":-95},{"x":85.375,"d":-84},{"x":85.625,"d":-93},{"x":85.875,"d":-83},{"x":86.125,"d":-94},{"x":86.375,"d":-85},{"x":86.625,"d":-93},{"x":86.875,"d":-84},{"x":87.125,"d":-95},{"x":87.375,"d":-83},{"x":87.625,"d":-94},{"x":87.875,"d":-84},{"x":88.125,"d":-93},{"x":88.375,"d":-85},{"x":88.625,"d":-94},{"x":89.425,"d":-84},{"x":89.625,"d":-94},{"x":89.875,"d":-83},{"x":90.125,"d":-95},{"x":90.375,"d":-84},{"x":90.625,"d":-93},{"x":90.875,"d":-85},{"x":91.125,"d":-94},{"x":91.375,"d":-83},{"x":91.625,"d":-95},{"x":91.875,"d":-84},{"x":92.125,"d":-93},{"x":92.375,"d":-85},{"x":92.625,"d":-97},{"x":92.875,"d":-100},{"x":93.125,"d":-94},{"x":93.375,"d":-85},{"x":93.625,"d":-94},{"x":93.875,"d":-84},{"x":94.125,"d":-93},{"x":94.375,"d":-83},{"x":94.625,"d":-94},{"x":94.875,"d":-84},{"x":95.125,"d":-93},{"x":95.375,"d":-82},{"x":95.65,"d":-81},{"x":95.9,"d":-93},{"x":96.125,"d":-84},{"x":96.375,"d":-94},{"x":96.625,"d":-83},{"x":96.875,"d":-95},{"x":97.125,"d":-84},{"x":97.375,"d":-94},{"x":97.625,"d":-83},{"x":97.875,"d":-95},{"x":98.125,"d":-85},{"x":98.375,"d":-95},{"x":99.2,"d":-87},{"x":99.4,"d":-96},{"x":99.625,"d":-84},{"x":99.875,"d":-94},{"x":100.125,"d":-84},{"x":100.375,"d":-94},{"x":100.625,"d":-83},{"x":100.875,"d":-95},{"x":101.125,"d":-84},{"x":101.375,"d":-93},{"x":101.625,"d":-82},{"x":101.875,"d":-94},{"x":102.125,"d":-85},{"x":102.375,"d":-95},{"x":102.625,"d":-83},{"x":102.875,"d":-94},{"x":103.125,"d":-84},{"x":103.375,"d":-93},{"x":103.625,"d":-83},{"x":103.875,"d":-95},{"x":104.125,"d":-84},{"x":104.375,"d":-94},{"x":104.625,"d":-85},{"x":104.875,"d":-93},{"x":105.125,"d":-83},{"x":105.375,"d":-95},{"x":105.625,"d":-84},{"x":105.875,"d":-94},{"x":106.125,"d":-83},{"x":106.375,"d":-95},{"x":106.625,"d":-84},{"x":106.875,"d":-93},{"x":107.125,"d":-85},{"x":107.375,"d":-96},{"x":107.625,"d":-84},{"x":107.875,"d":-94},{"x":108.125,"d":-83},{"x":108.375,"d":-95},{"x":108.625,"d":-84},{"x":108.875,"d":-94},{"x":109.125,"d":-83},{"x":109.375,"d":-93},{"x":109.625,"d":-85},{"x":109.875,"d":-94},{"x":110.125,"d":-84},{"x":110.375,"d":-95},{"x":110.625,"d":-83},{"x":110.875,"d":-94},{"x":111.125,"d":-84},{"x":111.375,"d":-93},{"x":111.625,"d":-85},{"x":111.875,"d":-95},{"x":112.125,"d":-83},{"x":112.375,"d":-94},{"x":112.625,"d":-84},{"x":112.875,"d":-95},{"x":113.125,"d":-83},{"x":113.375,"d":-94},{"x":113.625,"d":-85},{"x":113.875,"d":-93},{"x":114.125,"d":-84},{"x":114.375,"d":-95},{"x":114.625,"d":-83},{"x":114.875,"d":-94},{"x":115.125,"d":-84},{"x":115.375,"d":-93},{"x":115.625,"d":-85},{"x":115.875,"d":-95},{"x":116.125,"d":-83},{"x":116.375,"d":-94},{"x":116.625,"d":-84},{"x":116.875,"d":-93},{"x":117.125,"d":-85},{"x":117.375,"d":-95},{"x":117.625,"d":-83},{"x":117.875,"d":-94},{"x":118.125,"d":-84},{"x":118.375,"d":-95},{"x":118.625,"d":-83},{"x":118.875,"d":-94},{"x":119.125,"d":-84},{"x":119.375,"d":-93},{"x":119.625,"d":-85},{"x":119.875,"d":-94}
],
"bragg": [
{"x":20.88},{"x":23.76},{"x":27.0},{"x":28.86},{"x":30.39},{"x":30.76},{"x":34.88},{"x":37.66},{"x":38.87},{"x":39.1},{"x":40.12},{"x":41.51},{"x":42.67},{"x":43.83},{"x":45.55},{"x":46.38},{"x":46.7},{"x":48.37},{"x":48.7},{"x":49.39},{"x":49.95},{"x":52.78},{"x":53.34},{"x":54.95},{"x":55.51},{"x":56.44},{"x":57.5},{"x":57.83},{"x":58.2},{"x":58.66},{"x":59.13},{"x":59.82},{"x":60.61},{"x":61.12},{"x":61.68},{"x":63.44},{"x":63.77},{"x":64.09},{"x":64.46},{"x":64.69},{"x":65.02},{"x":65.3},{"x":65.62},{"x":65.85},{"x":66.08},{"x":67.47},{"x":67.7},{"x":68.17},{"x":68.86},{"x":69.65},{"x":71.78},{"x":72.11},{"x":73.03},{"x":73.5},{"x":73.96},{"x":74.42},{"x":75.12},{"x":76.28},{"x":77.67},{"x":78.13},{"x":78.73},{"x":79.06},{"x":79.38},{"x":79.75},{"x":80.45},{"x":81.15},{"x":81.61},{"x":82.17},{"x":83.46},{"x":83.83},{"x":84.39},{"x":84.85},{"x":85.32},{"x":85.78},{"x":86.24},{"x":86.71},{"x":87.4},{"x":87.64},{"x":88.1},{"x":88.47},{"x":88.79},{"x":89.26},{"x":89.72},{"x":90.19},{"x":90.65},{"x":91.11},{"x":91.58},{"x":91.9},{"x":93.43},{"x":93.89},{"x":94.82},{"x":95.05},{"x":96.44},{"x":97.14},{"x":98.39},{"x":98.76},{"x":99.23},{"x":100.71},{"x":101.08},{"x":101.54},{"x":102.01},{"x":102.24},{"x":103.86},{"x":104.09},{"x":104.56},{"x":105.25},{"x":105.72},{"x":107.11},{"x":108.03},{"x":108.5},{"x":108.96},{"x":109.19},{"x":109.66},{"x":110.12},{"x":110.58},{"x":111.05},{"x":111.51},{"x":111.98},{"x":112.67},{"x":113.37},{"x":114.29},{"x":114.76},{"x":115.45},{"x":116.15},{"x":116.61},{"x":117.07},{"x":117.54},{"x":117.86},{"x":118.23},{"x":118.6},{"x":118.93},{"x":119.25},{"x":119.62},{"x":119.9}
]
},
"layer": [
{
"data": {"name": "obs"},
"mark": {"type": "point", "filled": false, "strokeWidth": 1, "size": 64, "opacity": 1},
"encoding": {
"x": {"field": "x", "type": "quantitative", "scale": {"domain": [20, 120], "nice": false, "zero": false},
 "axis": {"values": [20,30,40,50,60,70,80,90,100,110,120], "labelExpr": "datum.value % 20 === 0 ? datum.label : ''", "tickSize": {"condition": {"test": "datum.value % 20 !== 0", "value": 6}, "value": 11}, "grid": false, "domainColor": "black", "domainWidth": 2, "tickColor": "black", "tickWidth": 2, "labelFont": "Liberation Sans", "labelFontSize": 26, "labelColor": "black", "labelPadding": 8, "labelFlush": false, "title": "2θ (°)", "titleFont": "Liberation Serif", "titleFontSize": 29, "titleFontWeight": "normal", "titleColor": "black", "titleBaseline": "middle", "titleY": 79}},
"y": {"field": "o", "type": "quantitative", "scale": {"domain": [-148, 438], "nice": false, "zero": false},
 "axis": {"values": [0], "grid": false, "domainColor": "black", "domainWidth": 2, "tickColor": "black", "tickWidth": 2, "tickSize": 12, "labelFont": "Liberation Sans", "labelFontSize": 26, "labelColor": "black", "labelPadding": 6, "title": "Intensidad (u.a.)", "titleFont": "Liberation Sans", "titleFontSize": 29, "titleFontWeight": "normal", "titleColor": "black", "titleX": -58, "titleY": 306, "titleBaseline": "middle", "titleAlign": "center", "titleAngle": -90}},
"color": {"datum": "Experimetal (YE)", "type": "nominal",
 "scale": {"domain": ["Experimetal (YE)", "Calculado (YC)", "Posiciones de Bragg", "YE - YC"], "range": ["#ff0000", "#000000", "#00ff00", "#0000ff"]},
 "legend": {"orient": "none", "legendX": 420, "legendY": 10, "title": null, "labelFont": "Liberation Sans", "labelFontSize": 26, "labelColor": "black", "labelOffset": 27, "labelLimit": 400, "symbolSize": 64, "symbolStrokeWidth": 1, "rowPadding": 12, "padding": 0}},
"shape": {"datum": "Experimetal (YE)", "type": "nominal",
 "scale": {"domain": ["Experimetal (YE)", "Calculado (YC)", "Posiciones de Bragg", "YE - YC"], "range": ["circle", "M-7,0L7,0", "M0,-1.7L0,1.7", "M-7,0L7,0"]},
 "legend": {"orient": "none", "legendX": 420, "legendY": 10, "title": null, "labelFont": "Liberation Sans", "labelFontSize": 26, "labelColor": "black", "labelOffset": 27, "labelLimit": 400, "symbolSize": 64, "symbolStrokeWidth": 1, "rowPadding": 12, "padding": 0}}
}
},
{
"data": {"name": "calc"},
"mark": {"type": "line", "color": "black", "strokeWidth": 1},
"encoding": {
"x": {"field": "x", "type": "quantitative"},
"y": {"field": "c", "type": "quantitative"}
}
},
{
"mark": {"type": "rule", "color": "black", "strokeWidth": 2},
"encoding": {"y": {"datum": 0, "type": "quantitative"}}
},
{
"data": {"name": "bragg"},
"mark": {"type": "rule", "color": "#00ff00", "strokeWidth": 1},
"encoding": {
"x": {"field": "x", "type": "quantitative"},
"y": {"datum": -15, "type": "quantitative"},
"y2": {"datum": -28}
}
},
{
"data": {"name": "diff"},
"mark": {"type": "line", "color": "#0000ff", "strokeWidth": 1},
"encoding": {
"x": {"field": "x", "type": "quantitative"},
"y": {"field": "d", "type": "quantitative"}
}
}
]
}
